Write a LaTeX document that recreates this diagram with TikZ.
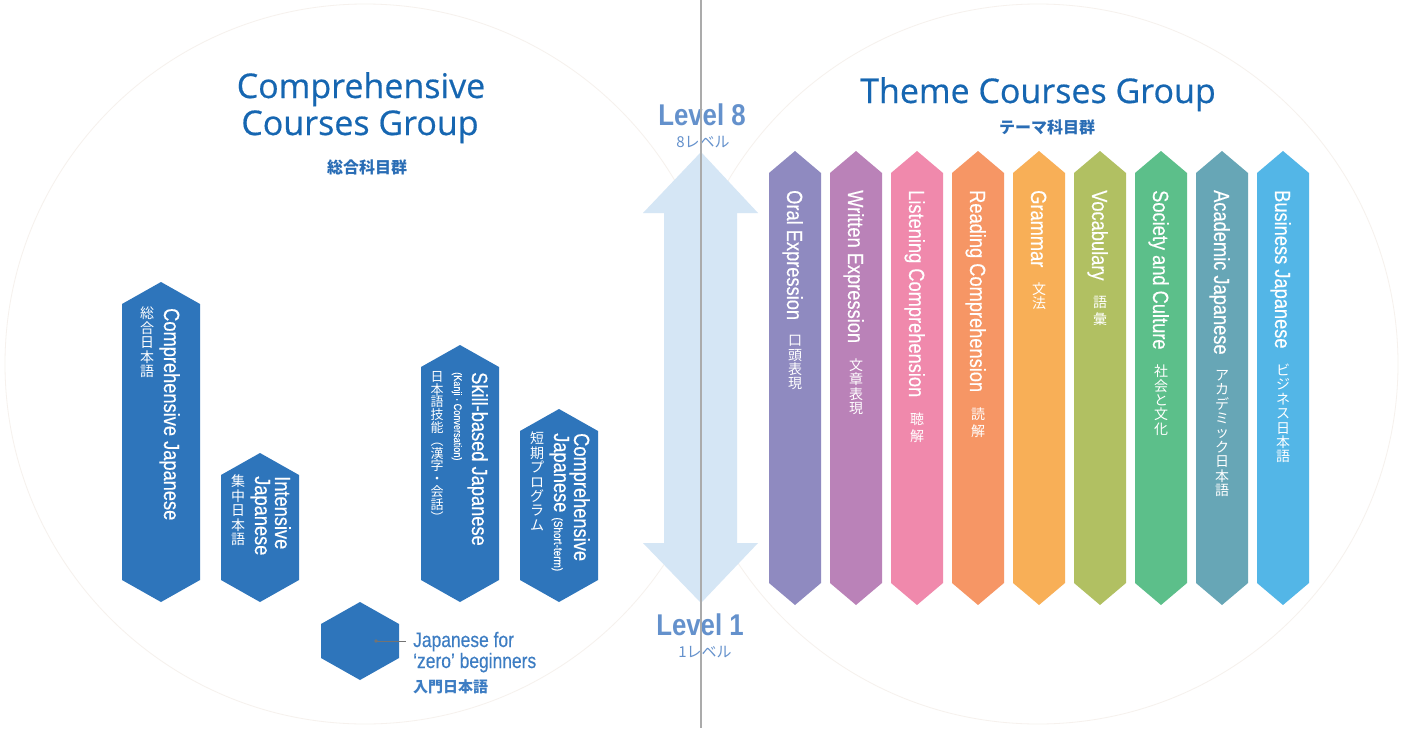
\documentclass[tikz,border=0pt]{standalone}
\usepackage{fontspec}
\setmainfont{Liberation Sans}
\newfontfamily\condf[FakeStretch=0.83,FakeBold=0.35]{Liberation Sans}
\newfontfamily\lvlf[FakeStretch=0.86]{Liberation Sans}
\newfontfamily\titlef[FakeBold=0.5]{Open Sans}
\newfontfamily\jpf{Noto Sans CJK JP}
\usetikzlibrary{calc}
\definecolor{lblue}{HTML}{2E75BB}
\definecolor{titleblue}{HTML}{1666B1}
\definecolor{jptitle}{HTML}{2A6DB5}
\definecolor{lvlblue}{HTML}{6491CC}
\definecolor{arrowblue}{HTML}{D5E6F5}
\definecolor{zblue}{HTML}{3D7DC3}
\definecolor{circcol}{HTML}{F6F1ED}
\definecolor{vgray}{HTML}{ABABAB}
\definecolor{cA}{HTML}{8F8AC0}
\definecolor{cB}{HTML}{BA82B8}
\definecolor{cC}{HTML}{F089AC}
\definecolor{cD}{HTML}{F69665}
\definecolor{cE}{HTML}{F8AF57}
\definecolor{cF}{HTML}{B1C062}
\definecolor{cG}{HTML}{5CBF8A}
\definecolor{cH}{HTML}{67A6B6}
\definecolor{cI}{HTML}{53B6E7}
\tikzset{
  eng/.style={rotate=-90, anchor=base west, inner sep=0pt, text=white,
    font=\condf\fontsize{22}{24}\selectfont},
  engsmall/.style={eng, font=\condf\fontsize{11}{12}\selectfont},
  jpv/.style={anchor=north, inner sep=0pt, text=white, align=center,
    font=\jpf\fontsize{14}{14.4}\selectfont},
  jpvs/.style={jpv, font=\jpf\fontsize{13}{12.8}\selectfont},
  titletext/.style={anchor=base, inner sep=0pt, text=titleblue,
    font=\titlef\fontsize{34}{38}\selectfont},
  jptitletext/.style={anchor=center, inner sep=0pt, text=jptitle,
    font=\jpf\bfseries\fontsize{16}{18}\selectfont},
  lvltext/.style={anchor=base, inner sep=0pt, text=lvlblue,
    font=\lvlf\bfseries\fontsize{30}{32}\selectfont},
  lvljp/.style={anchor=center, inner sep=0pt, text=lvlblue,
    font=\jpf\fontsize{15}{16}\selectfont},
  ztext/.style={anchor=base west, inner sep=0pt, text=zblue,
    font=\condf\fontsize{21}{22}\selectfont},
  circline/.style={draw=circcol, line width=0.8pt},
  vline/.style={draw=vgray, line width=1.5pt},
  leader/.style={draw=black!55, line width=0.8pt}
}
\newcommand\hexbar[5]{%
  \fill[#5] (#1,#2) -- ({#1+#4},{#2+22}) -- ({#1+#4},{#3-22}) -- (#1,#3)
    -- ({#1-#4},{#3-22}) -- ({#1-#4},{#2+22}) -- cycle;}
\newcommand\themecol[5]{%
  \hexbar{#2}{151}{605}{26}{#3}
  \coordinate (#1c) at (#2,0);
  \node[eng] (#1e) at ({#2-8},190) {#4};
  \node[jpv] (#1j) at ($(#1e.east -| #1c)+(0,15)$) {#5};
}
\begin{document}
\begin{tikzpicture}[x=1pt,y=-1pt]
\useasboundingbox (0,0) rectangle (1402,728);
\fill[white] (0,0) rectangle (1402,728);
% faint background circles
\draw[circline] (365,364) circle (360);
\draw[circline] (1038,364) circle (360);

% titles
\node[titletext] (lt1) at (361,98) {Comprehensive};
\node[titletext] (lt2) at (360,135) {Courses Group};
\node[jptitletext] (ltj) at (367,167) {総合科目群};
\node[titletext] (rt) at (1038,103) {Theme Courses Group};
\node[jptitletext] (rtj) at (1047,127) {テーマ科目群};

% level arrow
\fill[arrowblue] (701,152) -- (758,213) -- (737,213) -- (737,543) -- (758,543)
  -- (701,603) -- (643,543) -- (664,543) -- (664,213) -- (643,213) -- cycle;
\node[lvltext] (l8) at (702,125) {Level 8};
\node[lvljp] (l8j) at (703,142) {8レベル};
\node[lvltext] (l1) at (700,635) {Level 1};
\node[lvljp] (l1j) at (705,652) {1レベル};

% left group hexagons
\hexbar{161}{282}{602}{39}{lblue}
\node[eng] (cj) at (164,308) {Comprehensive Japanese};
\node[jpv] (cjj) at (147,307) {総\\合\\日\\本\\語};

\hexbar{260}{453}{602}{39}{lblue}
\node[eng] (ij1) at (275,476) {Intensive};
\node[eng] (ij2) at (255,476) {Japanese};
\node[jpv] (ijj) at (238,475) {集\\中\\日\\本\\語};

\hexbar{460}{345}{602}{39}{lblue}
\node[eng] (sb) at (472,372) {Skill-based Japanese};
\node[engsmall] (sbk) at (454,372) {(Kanji · Conversation)};
\node[jpvs] (sbj) at (437,371) {日\\本\\語\\技\\能\\︵\\漢\\字\\・\\会\\話\\︶};

\hexbar{559}{409}{602}{39}{lblue}
\node[eng] (st1) at (574,433) {Comprehensive};
\node[eng] (st2) at (554,433) {Japanese {\fontsize{12}{12}\selectfont(Short-term)}};
\node[jpv] (stj) at (537,432) {短\\期\\プ\\ロ\\グ\\ラ\\ム};

\hexbar{360}{602}{680}{39}{lblue}
\coordinate (zdot) at (376,641);
\coordinate (zend) at (406,641);
\draw[leader] (zdot) -- (zend);
\fill[black!55] (zdot) circle (1.8);
\node[ztext] (z1) at (413,647) {Japanese for};
\node[ztext] (z2) at (413,668) {‘zero’ beginners};
\node[anchor=west, inner sep=0pt, text=zblue, font=\jpf\bfseries\fontsize{15}{16}\selectfont] (z3) at (413,687) {入門日本語};

% theme columns
\themecol{oe}{795}{cA}{Oral Expression}{口\\頭\\表\\現}
\themecol{we}{856}{cB}{Written Expression}{文\\章\\表\\現}
\themecol{lc}{917}{cC}{Listening Comprehension}{聴\\[3pt]解}
\themecol{rc}{978}{cD}{Reading Comprehension}{読\\[3pt]解}
\themecol{gr}{1039}{cE}{Grammar}{文\\法}
\themecol{vo}{1100}{cF}{Vocabulary}{語\\[3pt]彙}
\themecol{sc}{1161}{cG}{Society and Culture}{社\\会\\と\\文\\化}
\themecol{aj}{1222}{cH}{Academic Japanese}{ア\\カ\\デ\\ミ\\ッ\\ク\\日\\本\\語}
\themecol{bj}{1283}{cI}{Business Japanese}{ビ\\ジ\\ネ\\ス\\日\\本\\語}

% centre divider
\coordinate (vtop) at (701,0);
\coordinate (vbot) at (701,728);
\draw[vline] (vtop) -- (vbot);
\end{tikzpicture}
\end{document}
